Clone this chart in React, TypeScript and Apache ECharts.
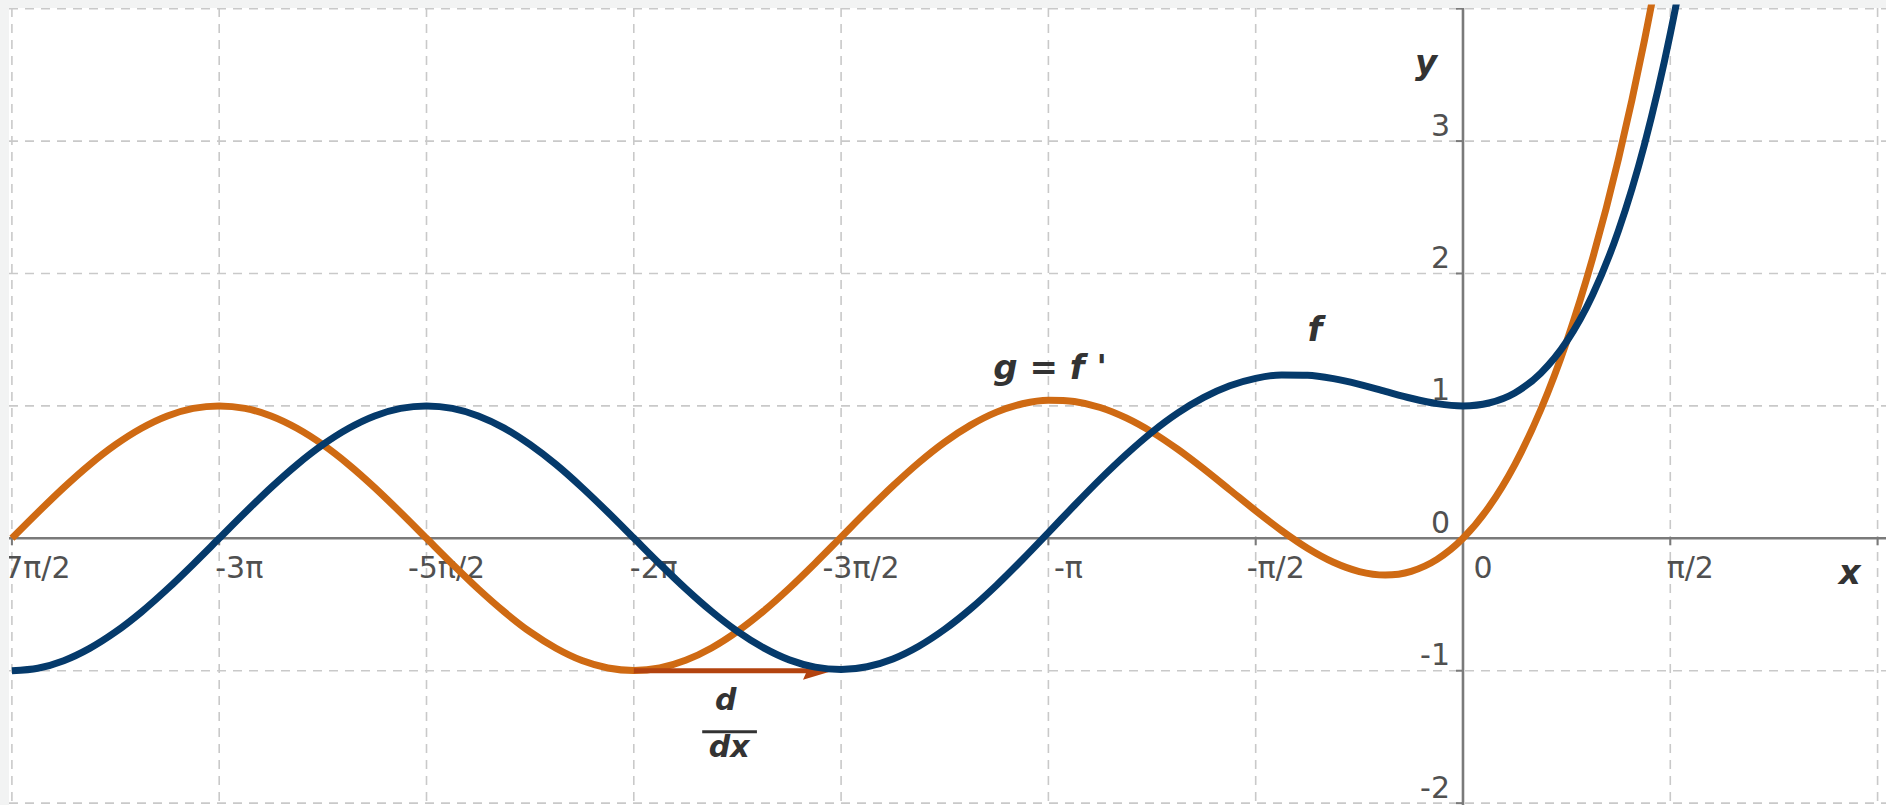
import React, { useEffect, useRef } from "react";
import * as echarts from "echarts";

// x positions in multiples of π (step π/16)
const xPi = [
  -3.5, -3.4375, -3.375, -3.3125, -3.25, -3.1875, -3.125, -3.0625,
  -3, -2.9375, -2.875, -2.8125, -2.75, -2.6875, -2.625, -2.5625,
  -2.5, -2.4375, -2.375, -2.3125, -2.25, -2.1875, -2.125, -2.0625,
  -2, -1.9375, -1.875, -1.8125, -1.75, -1.6875, -1.625, -1.5625,
  -1.5, -1.4375, -1.375, -1.3125, -1.25, -1.1875, -1.125, -1.0625,
  -1, -0.9375, -0.875, -0.8125, -0.75, -0.6875, -0.625, -0.5625,
  -0.5, -0.4375, -0.375, -0.3125, -0.25, -0.1875, -0.125, -0.0625,
  0, 0.0625, 0.125, 0.1875, 0.25, 0.3125, 0.375, 0.4375,
  0.5, 0.5625, 0.625,
];
// f (blue)
const fValues = [
  -1.0, -0.981, -0.924, -0.831, -0.707, -0.556, -0.383, -0.195,
  0.0, 0.195, 0.383, 0.556, 0.707, 0.831, 0.924, 0.981,
  1.0, 0.981, 0.924, 0.832, 0.707, 0.557, 0.384, 0.197,
  0.002, -0.193, -0.38, -0.552, -0.703, -0.826, -0.918, -0.973,
  -0.991, -0.97, -0.911, -0.815, -0.687, -0.532, -0.354, -0.16,
  0.043, 0.248, 0.447, 0.633, 0.802, 0.947, 1.064, 1.152,
  1.208, 1.234, 1.232, 1.206, 1.163, 1.11, 1.058, 1.017,
  1.0, 1.022, 1.098, 1.247, 1.486, 1.838, 2.324, 2.972,
  3.81, 4.873, 6.2,
];
// g = f' (orange)
const gValues = [
  0.0, 0.195, 0.383, 0.556, 0.707, 0.831, 0.924, 0.981,
  1.0, 0.981, 0.924, 0.831, 0.707, 0.556, 0.383, 0.195,
  0.0, -0.195, -0.383, -0.555, -0.707, -0.83, -0.923, -0.979,
  -0.998, -0.979, -0.921, -0.828, -0.703, -0.551, -0.377, -0.188,
  0.009, 0.206, 0.396, 0.572, 0.727, 0.855, 0.953, 1.016,
  1.043, 1.033, 0.988, 0.909, 0.802, 0.671, 0.523, 0.366,
  0.208, 0.058, -0.075, -0.181, -0.251, -0.277, -0.249, -0.159,
  0.0, 0.236, 0.557, 0.971, 1.486, 2.113, 2.865, 3.758,
  4.81, 6.049, 7.507,
];

const xTicks = [-3.5, -3, -2.5, -2, -1.5, -1, -0.5, 0, 0.5, 1];
const xTickLabels = ["-7π/2", "-3π", "-5π/2", "-2π", "-3π/2", "-π", "-π/2", "0", "π/2", "π"];
const yTicks = [-2, -1, 0, 1, 2, 3, 4];
const yTickLabels = ["-2", "-1", "0", "1", "2", "3", "4"];

const X_MIN = -3.507;
const X_MAX = 1.0203;
const Y_MIN = -2.014;
const Y_MAX = 4.005;

// annotation anchors (data coordinates)
const annotationText = ["y", "x", "f", "g = f '", "d", "dx"];
const annotationX = [-0.089, 0.933, -0.357, -0.996, -1.778, -1.77];
const annotationY = [3.6, -0.255, 1.581, 1.294, -1.214, -1.569];
const annotationSize = [34, 34, 34, 34, 30, 30];

const arrowFrom = [-2, -1];
const arrowTo = [-1.5195, -1];
const fractionBar = [-1.835, -1.703, -1.46];

const BLUE = "#053a6b";
const ORANGE = "#cf6a13";
const ARROW = "#b3430f";
const AXIS = "#7a7a7a";
const GRIDC = "#c9c9c9";
const TICKTXT = "#505050";
const FONT = '"DejaVu Sans", "Liberation Sans", sans-serif';

export default function App() {
  const ref = useRef<HTMLDivElement>(null);
  useEffect(() => {
    document.body.style.margin = "0";
    const chart = echarts.init(ref.current!, null, { renderer: "svg" });
    const option: any = {
      animation: false,
      backgroundColor: "#f2f3f3",
      grid: {
        left: 9,
        right: 0,
        top: 8,
        bottom: 0,
        show: true,
        backgroundColor: "#ffffff",
        borderWidth: 0,
      },
      xAxis: { type: "value", min: X_MIN, max: X_MAX, show: false },
      yAxis: { type: "value", min: Y_MIN, max: Y_MAX, show: false },
      series: [
        {
          type: "custom",
          name: "xgrid",
          z: 1,
          clip: true,
          silent: true,
          data: xTicks.map((v, i) => [v, 0, i]),
          renderItem: (params: any, api: any) => {
            const cs = params.coordSys;
            const p = api.coord([api.value(0), 0]);
            const i = api.value(2);
            return {
              type: "group",
              children: [
                {
                  type: "line",
                  shape: { x1: p[0], y1: cs.y, x2: p[0], y2: cs.y + cs.height },
                  style: { stroke: GRIDC, lineWidth: 1.6, lineDash: [9, 7] },
                },
                {
                  type: "line",
                  shape: { x1: p[0], y1: p[1], x2: p[0], y2: p[1] + 7 },
                  style: { stroke: AXIS, lineWidth: 2 },
                },
                {
                  type: "text",
                  x: p[0] + 20,
                  y: p[1] + 29,
                  style: {
                    text: xTickLabels[i],
                    fill: TICKTXT,
                    fontSize: 30,
                    fontFamily: FONT,
                    align: "center",
                    verticalAlign: "middle",
                    textAlign: "center",
                    textVerticalAlign: "middle",
                  },
                },
              ],
            };
          },
        },
        {
          type: "custom",
          name: "ygrid",
          z: 1,
          clip: true,
          silent: true,
          data: yTicks.map((v, i) => [0, v, i]),
          renderItem: (params: any, api: any) => {
            const cs = params.coordSys;
            const p = api.coord([0, api.value(1)]);
            const i = api.value(2);
            return {
              type: "group",
              children: [
                {
                  type: "line",
                  shape: { x1: cs.x, y1: p[1], x2: cs.x + cs.width, y2: p[1] },
                  style: { stroke: GRIDC, lineWidth: 1.6, lineDash: [9, 7] },
                },
                {
                  type: "line",
                  shape: { x1: p[0] - 7, y1: p[1], x2: p[0], y2: p[1] },
                  style: { stroke: AXIS, lineWidth: 2 },
                },
                {
                  type: "text",
                  x: p[0] - 13,
                  y: p[1] - 16,
                  style: {
                    text: yTickLabels[i],
                    fill: TICKTXT,
                    fontSize: 30,
                    fontFamily: FONT,
                    align: "right",
                    verticalAlign: "middle",
                    textAlign: "right",
                    textVerticalAlign: "middle",
                  },
                },
              ],
            };
          },
        },
        {
          type: "custom",
          name: "axes",
          z: 2,
          clip: true,
          silent: true,
          data: [[0, 0]],
          renderItem: (params: any, api: any) => {
            const cs = params.coordSys;
            const o = api.coord([0, 0]);
            return {
              type: "group",
              children: [
                {
                  type: "line",
                  shape: { x1: cs.x, y1: o[1], x2: cs.x + cs.width, y2: o[1] },
                  style: { stroke: AXIS, lineWidth: 2.6 },
                },
                {
                  type: "line",
                  shape: { x1: o[0], y1: cs.y, x2: o[0], y2: cs.y + cs.height },
                  style: { stroke: AXIS, lineWidth: 2.6 },
                },
              ],
            };
          },
        },
        {
          type: "line",
          name: "g",
          z: 3,
          clip: true,
          silent: true,
          showSymbol: false,
          smooth: 0.3,
          data: xPi.map((x, i) => [x, gValues[i]]),
          lineStyle: { color: ORANGE, width: 7 },
          itemStyle: { color: ORANGE },
        },
        {
          type: "custom",
          name: "arrow",
          z: 4,
          clip: true,
          silent: true,
          data: [[arrowFrom[0], arrowFrom[1], arrowTo[0], arrowTo[1]]],
          renderItem: (params: any, api: any) => {
            const a = api.coord([api.value(0), api.value(1)]);
            const b = api.coord([api.value(2), api.value(3)]);
            return {
              type: "group",
              children: [
                {
                  type: "line",
                  shape: { x1: a[0], y1: a[1], x2: b[0] - 22, y2: b[1] },
                  style: { stroke: ARROW, lineWidth: 5 },
                },
                {
                  type: "polygon",
                  shape: {
                    points: [
                      [b[0], b[1]],
                      [b[0] - 30, b[1] - 9],
                      [b[0] - 26, b[1]],
                      [b[0] - 30, b[1] + 9],
                    ],
                  },
                  style: { fill: ARROW },
                },
              ],
            };
          },
        },
        {
          type: "line",
          name: "f",
          z: 5,
          clip: true,
          silent: true,
          showSymbol: false,
          smooth: 0.3,
          data: xPi.map((x, i) => [x, fValues[i]]),
          lineStyle: { color: BLUE, width: 7 },
          itemStyle: { color: BLUE },
        },
        {
          type: "custom",
          name: "annotations",
          z: 6,
          clip: true,
          silent: true,
          data: annotationText.map((t, i) => [annotationX[i], annotationY[i], i]),
          renderItem: (params: any, api: any) => {
            const p = api.coord([api.value(0), api.value(1)]);
            const i = api.value(2);
            return {
              type: "text",
              x: p[0],
              y: p[1],
              style: {
                text: annotationText[i],
                fill: "#333333",
                fontSize: annotationSize[i],
                fontFamily: FONT,
                fontWeight: "bold",
                fontStyle: "italic",
                align: "center",
                verticalAlign: "middle",
                textAlign: "center",
                textVerticalAlign: "middle",
              },
            };
          },
        },
        {
          type: "custom",
          name: "fraction",
          z: 6,
          clip: true,
          silent: true,
          data: [[fractionBar[0], fractionBar[2], fractionBar[1]]],
          renderItem: (params: any, api: any) => {
            const a = api.coord([api.value(0), api.value(1)]);
            const b = api.coord([api.value(2), api.value(1)]);
            return {
              type: "line",
              shape: { x1: a[0], y1: a[1], x2: b[0], y2: b[1] },
              style: { stroke: "#333333", lineWidth: 3 },
            };
          },
        },
      ],
    };
    chart.setOption(option);
    return () => chart.dispose();
  }, []);
  return (
    <div
      ref={ref}
      style={{ position: "fixed", left: 0, top: 0, width: 1886, height: 805 }}
    />
  );
}
